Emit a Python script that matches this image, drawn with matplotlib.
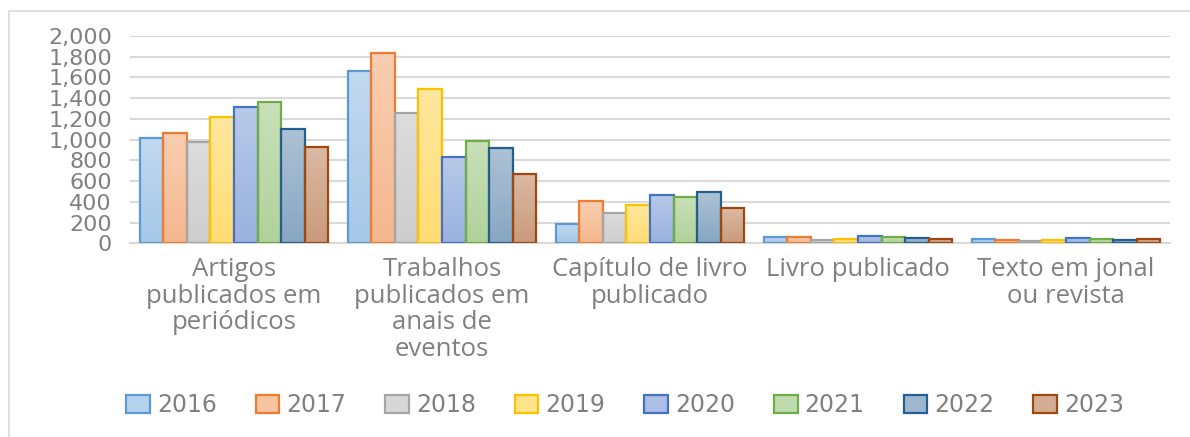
import numpy as np
import matplotlib
matplotlib.use("Agg")
import matplotlib.pyplot as plt
from matplotlib.colors import to_rgb
from matplotlib.patches import Patch
from matplotlib.lines import Line2D

categories = ["Artigos\npublicados em\nperiódicos",
              "Trabalhos\npublicados em\nanais de\neventos",
              "Capítulo de livro\npublicado",
              "Livro publicado",
              "Texto em jonal\nou revista"]
years = ["2016", "2017", "2018", "2019", "2020", "2021", "2022", "2023"]

v2016 = [1020, 1665, 186, 64, 39]
v2017 = [1060, 1836, 408, 58, 35]
v2018 = [982, 1257, 296, 32, 25]
v2019 = [1215, 1492, 373, 39, 32]
v2020 = [1311, 835, 463, 70, 51]
v2021 = [1359, 990, 450, 61, 44]
v2022 = [1101, 916, 492, 51, 35]
v2023 = [930, 668, 337, 41, 44]
series = [v2016, v2017, v2018, v2019, v2020, v2021, v2022, v2023]

edge_colors = ["#5B9BD5", "#ED7D31", "#A5A5A5", "#FFC000",
               "#4472C4", "#70AD47", "#255E91", "#9E480E"]
yticks = [0, 200, 400, 600, 800, 1000, 1200, 1400, 1600, 1800, 2000]

plt.rcParams['font.family'] = ['Open Sans', 'DejaVu Sans']

W, H = 1190, 437
fig = plt.figure(figsize=(W / 100, H / 100), dpi=100)
ax = fig.add_axes([130 / W, 1 - 243.3 / H, 1040 / W, (243.3 - 36) / H])

def lighten(c, f):
    r = np.array(to_rgb(c))
    return r + (1 - r) * f

n = len(years)
bw = 0.113
x = np.arange(len(categories))

for i, (vals, ec) in enumerate(zip(series, edge_colors)):
    pos = x + (i - (n - 1) / 2) * bw
    bars = ax.bar(pos, vals, width=bw, facecolor="none", edgecolor=ec,
                  linewidth=1.6, zorder=3)
    top = lighten(ec, 0.62)
    bot = lighten(ec, 0.45)
    grad = np.linspace(0, 1, 64)
    img = np.zeros((64, 1, 3))
    for k in range(3):
        img[:, 0, k] = bot[k] + (top[k] - bot[k]) * grad
    for b in bars:
        x0, y0 = b.get_x(), b.get_y()
        w, h = b.get_width(), b.get_height()
        im = ax.imshow(img, extent=[x0, x0 + w, y0, y0 + h], origin="lower",
                       aspect="auto", zorder=2, interpolation="bilinear")
        im.set_clip_path(b)

ax.set_xlim(-0.5, len(categories) - 0.5)
ax.set_ylim(0, 2000)
ax.set_yticks(yticks)
ax.set_yticklabels([f"{v:,}" for v in yticks], family="DejaVu Sans")
ax.set_xticks(x)
ax.set_xticklabels(categories, linespacing=1.08)
ax.tick_params(axis="y", length=0, pad=13, labelsize=16, labelcolor="#808080")
ax.tick_params(axis="x", length=0, pad=10, labelsize=18.5, labelcolor="#808080")
ax.grid(axis="y", color="#D9D9D9", linewidth=1.5, zorder=0)
ax.set_axisbelow(True)
for s in ["top", "right", "left"]:
    ax.spines[s].set_visible(False)
ax.spines["bottom"].set_color("#D9D9D9")
ax.spines["bottom"].set_linewidth(1.5)

handles = [Patch(facecolor=lighten(c, 0.55), edgecolor=c, linewidth=1.6)
           for c in edge_colors]
fig.legend(handles, years, loc="center", bbox_to_anchor=(625 / W, 1 - 405 / H),
           ncol=8, frameon=False, labelcolor="#808080",
           prop={"family": "DejaVu Sans", "size": 17},
           handlelength=1.0, handleheight=0.8, handletextpad=0.3,
           columnspacing=1.65)

# chart border (left and top)
fig.add_artist(Line2D([9 / W, 9 / W], [0, 1 - 11 / H], transform=fig.transFigure,
                      color="#D9D9D9", linewidth=1.2))
fig.add_artist(Line2D([9 / W, 1], [1 - 11 / H, 1 - 11 / H], transform=fig.transFigure,
                      color="#D9D9D9", linewidth=1.2))

fig.savefig("out.png", dpi=100, facecolor="white")
